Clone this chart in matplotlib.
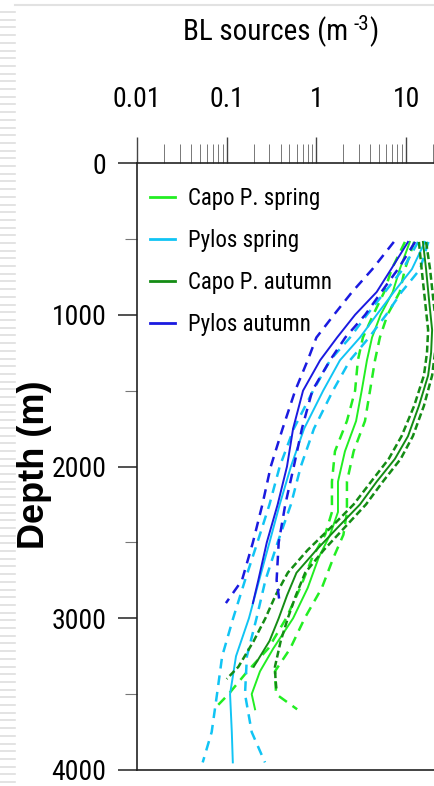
"""
Depth profiles of BL sources, spring and autumn, Capo P. and Pylos.
"""

import numpy as np
import matplotlib.pyplot as plt
from matplotlib import font_manager as fm
from matplotlib.lines import Line2D
from matplotlib.ticker import LogLocator, NullFormatter

nan = np.nan

# Capo P. spring
cs_depth = [520, 700, 850, 1000, 1150, 1300, 1500, 1700, 1900, 2100, 2300, 2450,
            2600, 2800, 3000, 3200, 3350, 3500, 3600]
cs_mid = [11.0, 8.5, 7.1, 5.2, 4.17, 3.66, 3.2, 2.77, 2.08, 1.74, 1.74, 1.42,
          1.06, 0.80, 0.55, 0.33, 0.235, 0.19, 0.207]
cs_lo = [9.7, 6.9, 5.7, 4.3, 3.3, 2.9, 2.7, 2.19, 1.61, 1.49, 1.49, 1.25,
         0.90, 0.66, 0.46, 0.29, 0.17, 0.105, 0.072]
cs_hi = [12.3, 9.7, 8.5, 6.2, 5.1, 4.5, 3.96, 3.48, 2.6, 2.19, 2.19, 2.0,
         1.55, 1.15, 0.74, 0.51, 0.345, 0.355, 0.61]

# Pylos spring
ps_depth = [520, 700, 850, 1000, 1150, 1300, 1500, 1750, 2000, 2250, 2500, 2750,
            3000, 3250, 3500, 3750, 3950]
ps_mid = [16.2, 11.6, 7.3, 4.7, 3.06, 1.83, 1.19, 0.73, 0.52, 0.39, 0.30, 0.23,
          0.177, 0.127, 0.109, 0.114, 0.117]
ps_lo = [13.6, 9.2, 5.8, 3.66, 2.37, 1.42, 0.92, 0.56, 0.39, 0.30, 0.22, 0.16,
         0.118, 0.089, 0.078, 0.068, 0.054]
ps_hi = [17.7, 14.3, 8.9, 6.0, 3.86, 2.37, 1.53, 0.94, 0.67, 0.52, 0.37, 0.27,
         0.215, 0.168, 0.16, 0.19, 0.267]

# Capo P. autumn
ca_depth = [520, 700, 900, 1100, 1250, 1400, 1600, 1800, 1950, 2100, 2250, 2400,
            2550, 2700, 2850, 3000, 3150, 3320, 3400, 3480]
ca_mid = [15.4, 16.7, 18.0, 19.5, 19.0, 17.6, 13.9, 10.5, 7.5, 4.7, 3.06, 1.74,
          1.0, 0.60, 0.47, 0.38, 0.30, 0.2, nan, nan]
ca_lo = [13.9, 14.9, 16.2, 17.6, 17.1, 15.8, 12.3, 8.9, 6.4, 4.07, 2.6, 1.46,
         0.80, 0.48, 0.35, 0.27, 0.2, 0.135, 0.1, nan]
ca_hi = [16.7, 18.5, 20.1, 22.0, 21.0, 19.5, 15.8, 11.9, 8.7, 5.5, 3.57, 2.08,
         1.21, 0.75, 0.59, 0.48, 0.40, 0.345, 0.35, 0.36]

# Pylos autumn
pa_depth = [520, 700, 850, 1000, 1150, 1300, 1500, 1750, 2000, 2250, 2500, 2750, 2900]
pa_mid = [10.5, 6.8, 4.7, 2.7, 1.7, 1.1, 0.71, 0.55, 0.47, 0.37, 0.28, 0.225, 0.196]
pa_lo = [7.3, 4.2, 2.5, 1.57, 1.0, 0.80, 0.58, 0.42, 0.31, 0.25, 0.196, 0.148, 0.098]
pa_hi = [12.6, 8.1, 5.3, 3.5, 2.1, 1.42, 0.90, 0.69, 0.56, 0.45, 0.38, 0.36, 0.39]

labels = ['Capo P. spring', 'Pylos spring', 'Capo P. autumn', 'Pylos autumn']
colors = ['#22ee22', '#11c4f4', '#148c14', '#1a1ae0']

x_ticks = [0.01, 0.1, 1, 10]
x_tick_labels = ['0.01', '0.1', '1', '10']
y_ticks = [0, 1000, 2000, 3000, 4000]
y_minor = [500, 1500, 2500, 3500]


def first_font(names):
    """Return the first installed family of names, or None."""
    for n in names:
        try:
            fm.findfont(fm.FontProperties(family=n), fallback_to_default=False)
            return n
        except ValueError:
            pass
    return None


narrow = first_font(['Liberation Sans Narrow', 'Arial Narrow', 'Roboto Condensed',
                     'Open Sans Condensed'])
if narrow:
    family, fs_tick, fs_leg, fs_title = narrow, 20, 16.5, 21
else:
    family, fs_tick, fs_leg, fs_title = 'Liberation Sans', 16.5, 14.5, 18.5

plt.rcParams['font.family'] = [family, 'DejaVu Sans']
plt.rcParams['lines.scale_dashes'] = False

W, H = 434, 786
fig = plt.figure(figsize=(W / 100, H / 100), dpi=100)

# grey page border on the left and top
for k in range(102):
    y = 1 - (12 + 7.7 * k) / H
    fig.add_artist(Line2D([0, 15 / W], [y, y], color='#dedede', lw=1.2))
fig.add_artist(Line2D([15 / W, 1], [1 - 5 / H, 1 - 5 / H], color='#e2e2e2', lw=1.5))

ax = fig.add_axes([137 / W, 16 / H, 358.8 / W, 607 / H])

series = [
    (cs_depth, cs_mid, cs_lo, cs_hi, (7, 5)),
    (ps_depth, ps_mid, ps_lo, ps_hi, (7, 5)),
    (ca_depth, ca_mid, ca_lo, ca_hi, (5, 2.5)),
    (pa_depth, pa_mid, pa_lo, pa_hi, (7, 5)),
]
for (d, m, lo, hi, dash), lab, c in zip(series, labels, colors):
    ax.plot(m, d, color=c, lw=1.4, label=lab)
    ax.plot(lo, d, color=c, lw=1.8, dashes=dash)
    ax.plot(hi, d, color=c, lw=1.8, dashes=dash)

ax.set_xscale('log')
ax.set_xlim(0.01, 100)
ax.set_ylim(4000, 0)
ax.xaxis.tick_top()
ax.set_xticks(x_ticks)
ax.set_xticklabels(x_tick_labels)
ax.xaxis.set_minor_locator(LogLocator(base=10, subs=range(2, 10)))
ax.xaxis.set_minor_formatter(NullFormatter())
ax.set_yticks(y_ticks)
ax.set_yticks(y_minor, minor=True)

ax.tick_params(axis='x', which='major', direction='out', length=19, width=1.0,
               pad=17, labelsize=fs_tick, color='#444444')
ax.tick_params(axis='x', which='minor', direction='out', length=14, width=0.7,
               color='#777777')
ax.tick_params(axis='y', which='major', direction='out', length=14, width=1.2,
               pad=8, labelsize=fs_tick, color='#333333')
ax.tick_params(axis='y', which='minor', direction='out', length=8.5, width=0.8,
               color='#777777')
ax.spines['right'].set_visible(False)
for s in ['top', 'left', 'bottom']:
    ax.spines[s].set_linewidth(1.2)
    ax.spines[s].set_color('#222222')

leg = ax.legend(loc='upper left', bbox_to_anchor=(0.036, 0.960), frameon=False,
                fontsize=fs_leg, handlelength=18 / fs_leg, handletextpad=0.55,
                labelspacing=0.82, borderpad=0, borderaxespad=0)
for h in leg.get_lines():
    h.set_linewidth(2.0)

# title with a raised "-3"
fig.canvas.draw()
r = fig.canvas.get_renderer()
t1 = fig.text(183 / W, 1 - 32 / H, 'BL sources (m', fontsize=fs_title,
              ha='left', va='center')
x1 = t1.get_window_extent(r).x1 / W
t2 = fig.text(x1 + 5 / W, 1 - 24 / H, '-3', fontsize=fs_title * 0.72,
              ha='left', va='center')
x2 = t2.get_window_extent(r).x1 / W
fig.text(x2 + 1 / W, 1 - 32 / H, ')', fontsize=fs_title, ha='left', va='center')

fig.text(35 / W, 1 - 465 / H, 'Depth (m)', rotation=90, fontsize=26,
         fontweight='bold', family='Liberation Sans', ha='center', va='center')

fig.savefig('out.png', dpi=100)
